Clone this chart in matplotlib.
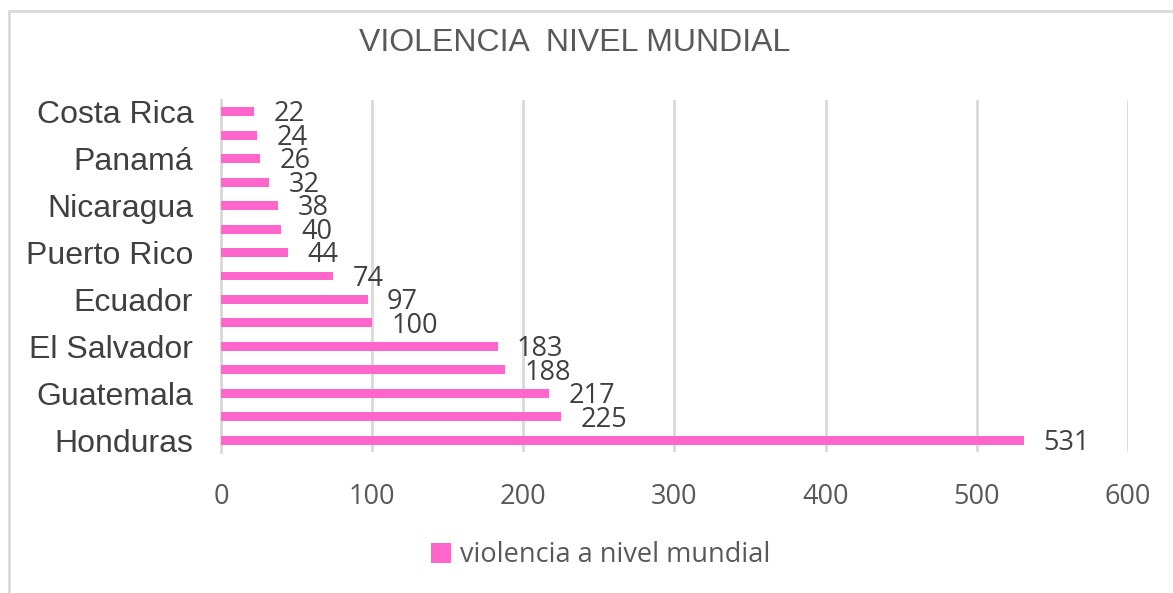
import matplotlib.pyplot as plt
from matplotlib.patches import Rectangle

# data, bottom to top (blank names are rows whose label Excel skipped)
categories = ["Honduras", "", "Guatemala", "", "El Salvador", "", "Ecuador", "",
              "Puerto Rico", "", "Nicaragua", "", "Panamá", "", "Costa Rica"]
values = [531, 225, 217, 188, 183, 100, 97, 74, 44, 40, 38, 32, 26, 24, 22]
x_ticks = [0, 100, 200, 300, 400, 500, 600]

BAR = "#FF66CC"
GRID = "#D9D9D9"
NUM_FONT = "Open Sans"

fig = plt.figure(figsize=(11.73, 5.93), dpi=100)
ax = fig.add_axes([0.1884, 0.2378, 0.9616 - 0.1884, 0.8314 - 0.2378])

pos = list(range(len(values)))
ax.barh(pos, values, height=0.38, color=BAR, zorder=3, label="violencia a nivel mundial")
for y, v in zip(pos, values):
    ax.annotate(str(v), (v, y), xytext=(14, -2), textcoords="offset points",
                ha="left", va="center", fontsize=19.5, color="#404040", family=NUM_FONT)

ax.set_xlim(0, 600)
ax.set_ylim(-0.5, len(values) - 0.5)
ax.set_xticks(x_ticks)
ax.set_xticklabels([str(t) for t in x_ticks], fontsize=19.5, color="#595959", family=NUM_FONT)
ax.set_yticks(pos)
ax.set_yticklabels(categories, fontsize=23, color="#404040", family="Liberation Sans")
ax.tick_params(axis="x", length=0, pad=22)
ax.tick_params(axis="y", length=0, pad=20)
ax.grid(axis="x", color=GRID, linewidth=2, zorder=0)
for s in ["top", "right", "bottom"]:
    ax.spines[s].set_visible(False)
ax.spines["left"].set_color(GRID)
ax.spines["left"].set_linewidth(2)

fig.text(0.49, 0.928, "VIOLENCIA  NIVEL MUNDIAL", ha="center", va="center",
         fontsize=23, color="#595959", family="Liberation Sans")

leg = fig.legend(loc="center", bbox_to_anchor=(0.512, 0.064), frameon=False,
                 prop={"family": NUM_FONT, "size": 19.5}, handlelength=0.75, handleheight=0.75,
                 handletextpad=0.3)
for t in leg.get_texts():
    t.set_color("#595959")

fig.patches.append(Rectangle((9 / 1173, -0.05), 1.2, 1 - 11 / 593 + 0.05,
                             transform=fig.transFigure, fill=False,
                             edgecolor=GRID, linewidth=2))

fig.savefig("out.png", dpi=100)
